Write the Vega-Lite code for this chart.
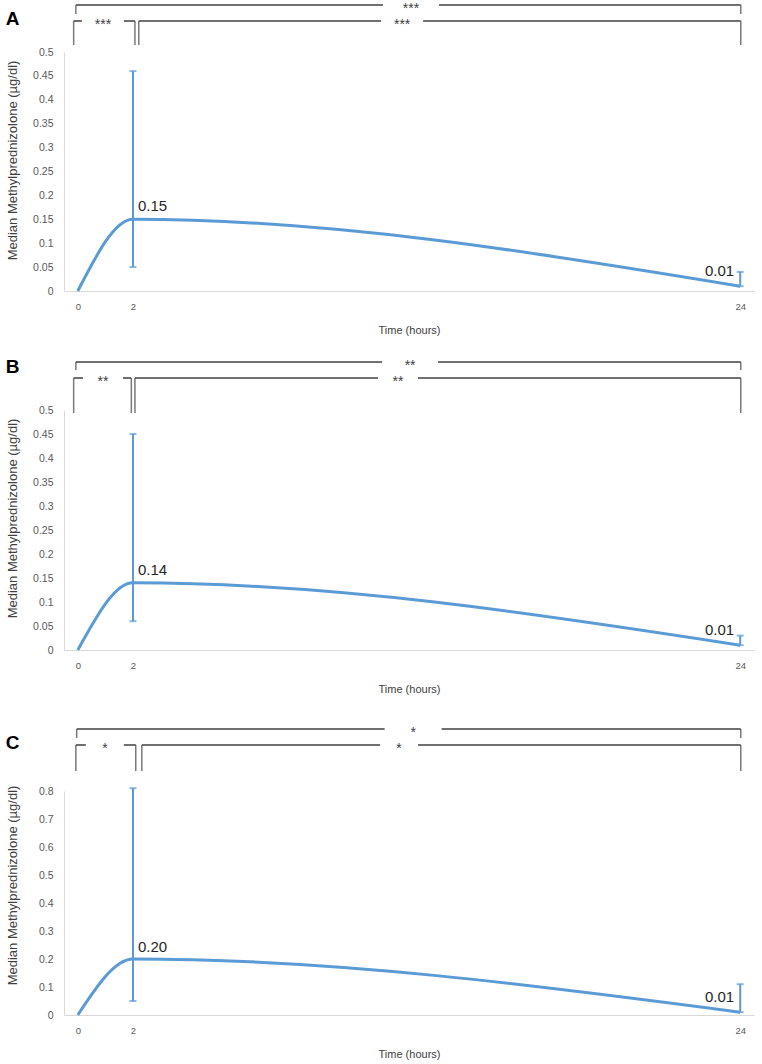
{
  "$schema": "https://vega.github.io/schema/vega-lite/v6.json",
  "padding": {"left": 5, "right": 3, "top": 0, "bottom": 2},
  "config": {
    "view": {"stroke": null},
    "font": "Liberation Sans",
    "axis": {"grid": false, "ticks": false, "tickSize": 0, "labelOverlap": false, "domainColor": "#d9d9d9", "domainWidth": 1, "labelColor": "#595959", "titleColor": "#404040", "titleFontWeight": "normal"}
  },
  "datasets": {
    "curve": [
      {"panel": "A", "t": 0, "median": 0},
      {"panel": "A", "t": 2, "median": 0.15},
      {"panel": "A", "t": 24, "median": 0.01},
      {"panel": "B", "t": 0, "median": 0},
      {"panel": "B", "t": 2, "median": 0.14},
      {"panel": "B", "t": 24, "median": 0.01},
      {"panel": "C", "t": 0, "median": 0},
      {"panel": "C", "t": 2, "median": 0.20},
      {"panel": "C", "t": 24, "median": 0.01}
    ],
    "spread": [
      {"panel": "A", "t": 2, "lo": 0.05, "hi": 0.46},
      {"panel": "A", "t": 24, "lo": 0.01, "hi": 0.04},
      {"panel": "B", "t": 2, "lo": 0.06, "hi": 0.45},
      {"panel": "B", "t": 24, "lo": 0.01, "hi": 0.03},
      {"panel": "C", "t": 2, "lo": 0.05, "hi": 0.81},
      {"panel": "C", "t": 24, "lo": 0.01, "hi": 0.11}
    ],
    "brackets": [
      {"panel": "A", "comparison": "0 h vs 2 h", "from": -0.15, "to": 2.07, "level": 1, "label": "***", "labelAt": 0.91},
      {"panel": "A", "comparison": "2 h vs 24 h", "from": 2.21, "to": 24.02, "level": 1, "label": "***", "labelAt": 11.75},
      {"panel": "A", "comparison": "0 h vs 24 h", "from": -0.07, "to": 24.02, "level": 2, "label": "***", "labelAt": 12.07},
      {"panel": "B", "comparison": "0 h vs 2 h", "from": -0.15, "to": 1.94, "level": 1, "label": "**", "labelAt": 0.91},
      {"panel": "B", "comparison": "2 h vs 24 h", "from": 2.07, "to": 24.02, "level": 1, "label": "**", "labelAt": 11.6},
      {"panel": "B", "comparison": "0 h vs 24 h", "from": -0.07, "to": 24.02, "level": 2, "label": "**", "labelAt": 12.04},
      {"panel": "C", "comparison": "0 h vs 2 h", "from": -0.07, "to": 2.1, "level": 1, "label": "*", "labelAt": 0.98},
      {"panel": "C", "comparison": "2 h vs 24 h", "from": 2.32, "to": 24.02, "level": 1, "label": "*", "labelAt": 11.64},
      {"panel": "C", "comparison": "0 h vs 24 h", "from": -0.04, "to": 24.02, "level": 2, "label": "*", "labelAt": 12.15}
    ]
  },
  "resolve": {"scale": {"x": "independent", "y": "independent"}},
  "spacing": 0,
  "bounds": "flush",
  "vconcat": [
    {
      "width": 690, "height": 52,
      "data": {"name": "brackets"},
      "transform": [{"filter": "datum.panel === 'A'"}],
      "layer": [
        {
          "mark": {"type": "rule", "color": "#404040", "strokeWidth": 1.5},
          "encoding": {
            "x": {"field": "from", "type": "quantitative", "scale": {"domain": [-0.5, 24.5], "nice": false, "zero": false}, "axis": null},
            "x2": {"field": "to"},
            "y": {"field": "level", "type": "quantitative", "scale": {"domain": [-0.9375, 2.3125], "nice": false, "zero": false},
                  "axis": {"title": "A", "labels": false, "domain": false, "titleAngle": 0, "titleX": -52, "titleY": 18, "titleAlign": "center", "titleBaseline": "middle", "titleFontSize": 19, "titleFontWeight": "bold", "titleColor": "#000000"}}
          }
        },
        {
          "transform": [{"filter": "datum.level === 2"}, {"fold": ["from", "to"], "as": ["end", "at"]}],
          "mark": {"type": "tick", "orient": "vertical", "size": 9, "thickness": 1.5, "yOffset": 4.5, "color": "#404040"},
          "encoding": {"x": {"field": "at", "type": "quantitative"}, "y": {"field": "level", "type": "quantitative"}}
        },
        {
          "transform": [{"filter": "datum.level === 1"}, {"fold": ["from", "to"], "as": ["end", "at"]}],
          "mark": {"type": "tick", "orient": "vertical", "size": 24, "thickness": 1.5, "yOffset": 12, "color": "#404040"},
          "encoding": {"x": {"field": "at", "type": "quantitative"}, "y": {"field": "level", "type": "quantitative"}}
        },
        {
          "transform": [{"filter": "datum.level === 2"}],
          "mark": {"type": "point", "shape": "M-1,-0.15H1V0.15H-1Z", "size": 3136, "filled": true, "fill": "#ffffff", "strokeWidth": 0, "opacity": 1},
          "encoding": {"x": {"field": "labelAt", "type": "quantitative"}, "y": {"field": "level", "type": "quantitative"}}
        },
        {
          "transform": [{"filter": "datum.level === 1"}],
          "mark": {"type": "point", "shape": "M-1,-0.15H1V0.15H-1Z", "size": 1764, "filled": true, "fill": "#ffffff", "strokeWidth": 0, "opacity": 1},
          "encoding": {"x": {"field": "labelAt", "type": "quantitative"}, "y": {"field": "level", "type": "quantitative"}}
        },
        {
          "mark": {"type": "text", "fontSize": 14, "baseline": "alphabetic", "dy": 8, "color": "#404040"},
          "encoding": {"x": {"field": "labelAt", "type": "quantitative"}, "y": {"field": "level", "type": "quantitative"}, "text": {"field": "label"}}
        }
      ]
    },
    {
      "width": 690, "height": 239,
      "layer": [
        {
          "data": {"name": "curve"},
          "transform": [{"filter": "datum.panel === 'A'"}],
          "mark": {"type": "line", "interpolate": "monotone", "color": "#5b9bd5", "strokeWidth": 3},
          "encoding": {
            "x": {"field": "t", "type": "quantitative", "scale": {"domain": [-0.5, 24.5], "nice": false, "zero": false},
                  "axis": {"values": [0, 2, 24], "tickCount": 30, "title": "Time (hours)", "labelFontSize": 9.5, "labelPadding": 10, "titleFontSize": 11, "titlePadding": 14}},
            "y": {"field": "median", "type": "quantitative", "scale": {"domain": [0, 0.5], "nice": false},
                  "axis": {"values": [0, 0.05, 0.1, 0.15, 0.2, 0.25, 0.3, 0.35, 0.4, 0.45, 0.5], "tickCount": 30, "format": ".2~f", "labelOverlap": false, "labelFontSize": 10.5, "labelPadding": 11,
                           "title": "Median Methylprednizolone (µg/dl)", "titleFontSize": 13, "titleX": -52, "titleY": 108, "titleAlign": "center", "titleBaseline": "middle"}}
          }
        },
        {
          "data": {"name": "spread"},
          "transform": [{"filter": "datum.panel === 'A'"}],
          "mark": {"type": "rule", "color": "#5b9bd5", "strokeWidth": 2},
          "encoding": {"x": {"field": "t", "type": "quantitative"}, "y": {"field": "lo", "type": "quantitative"}, "y2": {"field": "hi"}}
        },
        {
          "data": {"name": "spread"},
          "transform": [{"filter": "datum.panel === 'A'"}],
          "mark": {"type": "tick", "orient": "horizontal", "size": 7, "thickness": 2, "color": "#5b9bd5"},
          "encoding": {"x": {"field": "t", "type": "quantitative"}, "y": {"field": "hi", "type": "quantitative"}}
        },
        {
          "data": {"name": "spread"},
          "transform": [{"filter": "datum.panel === 'A'"}],
          "mark": {"type": "tick", "orient": "horizontal", "size": 7, "thickness": 2, "color": "#5b9bd5"},
          "encoding": {"x": {"field": "t", "type": "quantitative"}, "y": {"field": "lo", "type": "quantitative"}}
        },
        {
          "data": {"name": "curve"},
          "transform": [{"filter": "datum.panel === 'A' && datum.t === 2"}],
          "mark": {"type": "text", "align": "left", "baseline": "alphabetic", "dx": 5, "dy": -8, "fontSize": 15, "color": "#262626"},
          "encoding": {"x": {"field": "t", "type": "quantitative"}, "y": {"field": "median", "type": "quantitative"}, "text": {"field": "median", "type": "quantitative", "format": ".2f"}}
        },
        {
          "data": {"name": "curve"},
          "transform": [{"filter": "datum.panel === 'A' && datum.t === 24"}],
          "mark": {"type": "text", "align": "right", "baseline": "alphabetic", "dx": -6, "dy": -10, "fontSize": 15, "color": "#262626"},
          "encoding": {"x": {"field": "t", "type": "quantitative"}, "y": {"field": "median", "type": "quantitative"}, "text": {"field": "median", "type": "quantitative", "format": ".2f"}}
        }
      ]
    },
    {
      "width": 690, "height": 119,
      "data": {"name": "brackets"},
      "transform": [{"filter": "datum.panel === 'B'"}],
      "layer": [
        {
          "mark": {"type": "rule", "color": "#404040", "strokeWidth": 1.5},
          "encoding": {
            "x": {"field": "from", "type": "quantitative", "scale": {"domain": [-0.5, 24.5], "nice": false, "zero": false}, "axis": null},
            "x2": {"field": "to"},
            "y": {"field": "level", "type": "quantitative", "scale": {"domain": [-1.0, 6.4375], "nice": false, "zero": false},
                  "axis": {"title": "B", "labels": false, "domain": false, "titleAngle": 0, "titleX": -52, "titleY": 75, "titleAlign": "center", "titleBaseline": "middle", "titleFontSize": 19, "titleFontWeight": "bold", "titleColor": "#000000"}}
          }
        },
        {
          "transform": [{"filter": "datum.level === 2"}, {"fold": ["from", "to"], "as": ["end", "at"]}],
          "mark": {"type": "tick", "orient": "vertical", "size": 8, "thickness": 1.5, "yOffset": 4, "color": "#404040"},
          "encoding": {"x": {"field": "at", "type": "quantitative"}, "y": {"field": "level", "type": "quantitative"}}
        },
        {
          "transform": [{"filter": "datum.level === 1"}, {"fold": ["from", "to"], "as": ["end", "at"]}],
          "mark": {"type": "tick", "orient": "vertical", "size": 35, "thickness": 1.5, "yOffset": 17.5, "color": "#404040"},
          "encoding": {"x": {"field": "at", "type": "quantitative"}, "y": {"field": "level", "type": "quantitative"}}
        },
        {
          "transform": [{"filter": "datum.level === 2"}],
          "mark": {"type": "point", "shape": "M-1,-0.15H1V0.15H-1Z", "size": 3136, "filled": true, "fill": "#ffffff", "strokeWidth": 0, "opacity": 1},
          "encoding": {"x": {"field": "labelAt", "type": "quantitative"}, "y": {"field": "level", "type": "quantitative"}}
        },
        {
          "transform": [{"filter": "datum.level === 1"}],
          "mark": {"type": "point", "shape": "M-1,-0.15H1V0.15H-1Z", "size": 1600, "filled": true, "fill": "#ffffff", "strokeWidth": 0, "opacity": 1},
          "encoding": {"x": {"field": "labelAt", "type": "quantitative"}, "y": {"field": "level", "type": "quantitative"}}
        },
        {
          "mark": {"type": "text", "fontSize": 14, "baseline": "alphabetic", "dy": 8, "color": "#404040"},
          "encoding": {"x": {"field": "labelAt", "type": "quantitative"}, "y": {"field": "level", "type": "quantitative"}, "text": {"field": "label"}}
        }
      ]
    },
    {
      "width": 690, "height": 240,
      "layer": [
        {
          "data": {"name": "curve"},
          "transform": [{"filter": "datum.panel === 'B'"}],
          "mark": {"type": "line", "interpolate": "monotone", "color": "#5b9bd5", "strokeWidth": 3},
          "encoding": {
            "x": {"field": "t", "type": "quantitative", "scale": {"domain": [-0.5, 24.5], "nice": false, "zero": false},
                  "axis": {"values": [0, 2, 24], "tickCount": 30, "title": "Time (hours)", "labelFontSize": 9.5, "labelPadding": 10, "titleFontSize": 11, "titlePadding": 14}},
            "y": {"field": "median", "type": "quantitative", "scale": {"domain": [0, 0.5], "nice": false},
                  "axis": {"values": [0, 0.05, 0.1, 0.15, 0.2, 0.25, 0.3, 0.35, 0.4, 0.45, 0.5], "tickCount": 30, "format": ".2~f", "labelOverlap": false, "labelFontSize": 10.5, "labelPadding": 11,
                           "title": "Median Methylprednizolone (µg/dl)", "titleFontSize": 13, "titleX": -52, "titleY": 108, "titleAlign": "center", "titleBaseline": "middle"}}
          }
        },
        {
          "data": {"name": "spread"},
          "transform": [{"filter": "datum.panel === 'B'"}],
          "mark": {"type": "rule", "color": "#5b9bd5", "strokeWidth": 2},
          "encoding": {"x": {"field": "t", "type": "quantitative"}, "y": {"field": "lo", "type": "quantitative"}, "y2": {"field": "hi"}}
        },
        {
          "data": {"name": "spread"},
          "transform": [{"filter": "datum.panel === 'B'"}],
          "mark": {"type": "tick", "orient": "horizontal", "size": 7, "thickness": 2, "color": "#5b9bd5"},
          "encoding": {"x": {"field": "t", "type": "quantitative"}, "y": {"field": "hi", "type": "quantitative"}}
        },
        {
          "data": {"name": "spread"},
          "transform": [{"filter": "datum.panel === 'B'"}],
          "mark": {"type": "tick", "orient": "horizontal", "size": 7, "thickness": 2, "color": "#5b9bd5"},
          "encoding": {"x": {"field": "t", "type": "quantitative"}, "y": {"field": "lo", "type": "quantitative"}}
        },
        {
          "data": {"name": "curve"},
          "transform": [{"filter": "datum.panel === 'B' && datum.t === 2"}],
          "mark": {"type": "text", "align": "left", "baseline": "alphabetic", "dx": 5, "dy": -8, "fontSize": 15, "color": "#262626"},
          "encoding": {"x": {"field": "t", "type": "quantitative"}, "y": {"field": "median", "type": "quantitative"}, "text": {"field": "median", "type": "quantitative", "format": ".2f"}}
        },
        {
          "data": {"name": "curve"},
          "transform": [{"filter": "datum.panel === 'B' && datum.t === 24"}],
          "mark": {"type": "text", "align": "right", "baseline": "alphabetic", "dx": -6, "dy": -10, "fontSize": 15, "color": "#262626"},
          "encoding": {"x": {"field": "t", "type": "quantitative"}, "y": {"field": "median", "type": "quantitative"}, "text": {"field": "median", "type": "quantitative", "format": ".2f"}}
        }
      ]
    },
    {
      "width": 690, "height": 141,
      "data": {"name": "brackets"},
      "transform": [{"filter": "datum.panel === 'C'"}],
      "layer": [
        {
          "mark": {"type": "rule", "color": "#404040", "strokeWidth": 1.5},
          "encoding": {
            "x": {"field": "from", "type": "quantitative", "scale": {"domain": [-0.5, 24.5], "nice": false, "zero": false}, "axis": null},
            "x2": {"field": "to"},
            "y": {"field": "level", "type": "quantitative", "scale": {"domain": [-1.875, 6.9375], "nice": false, "zero": false},
                  "axis": {"title": "C", "labels": false, "domain": false, "titleAngle": 0, "titleX": -52, "titleY": 92, "titleAlign": "center", "titleBaseline": "middle", "titleFontSize": 19, "titleFontWeight": "bold", "titleColor": "#000000"}}
          }
        },
        {
          "transform": [{"filter": "datum.level === 2"}, {"fold": ["from", "to"], "as": ["end", "at"]}],
          "mark": {"type": "tick", "orient": "vertical", "size": 9, "thickness": 1.5, "yOffset": 4.5, "color": "#404040"},
          "encoding": {"x": {"field": "at", "type": "quantitative"}, "y": {"field": "level", "type": "quantitative"}}
        },
        {
          "transform": [{"filter": "datum.level === 1"}, {"fold": ["from", "to"], "as": ["end", "at"]}],
          "mark": {"type": "tick", "orient": "vertical", "size": 26, "thickness": 1.5, "yOffset": 13, "color": "#404040"},
          "encoding": {"x": {"field": "at", "type": "quantitative"}, "y": {"field": "level", "type": "quantitative"}}
        },
        {
          "transform": [{"filter": "datum.level === 2"}],
          "mark": {"type": "point", "shape": "M-1,-0.15H1V0.15H-1Z", "size": 3249, "filled": true, "fill": "#ffffff", "strokeWidth": 0, "opacity": 1},
          "encoding": {"x": {"field": "labelAt", "type": "quantitative"}, "y": {"field": "level", "type": "quantitative"}}
        },
        {
          "transform": [{"filter": "datum.level === 1"}],
          "mark": {"type": "point", "shape": "M-1,-0.15H1V0.15H-1Z", "size": 1444, "filled": true, "fill": "#ffffff", "strokeWidth": 0, "opacity": 1},
          "encoding": {"x": {"field": "labelAt", "type": "quantitative"}, "y": {"field": "level", "type": "quantitative"}}
        },
        {
          "mark": {"type": "text", "fontSize": 14, "baseline": "alphabetic", "dy": 8, "color": "#404040"},
          "encoding": {"x": {"field": "labelAt", "type": "quantitative"}, "y": {"field": "level", "type": "quantitative"}, "text": {"field": "label"}}
        }
      ]
    },
    {
      "width": 690, "height": 224,
      "layer": [
        {
          "data": {"name": "curve"},
          "transform": [{"filter": "datum.panel === 'C'"}],
          "mark": {"type": "line", "interpolate": "monotone", "color": "#5b9bd5", "strokeWidth": 3},
          "encoding": {
            "x": {"field": "t", "type": "quantitative", "scale": {"domain": [-0.5, 24.5], "nice": false, "zero": false},
                  "axis": {"values": [0, 2, 24], "tickCount": 30, "title": "Time (hours)", "labelFontSize": 9.5, "labelPadding": 10, "titleFontSize": 11, "titlePadding": 14}},
            "y": {"field": "median", "type": "quantitative", "scale": {"domain": [0, 0.8], "nice": false},
                  "axis": {"values": [0, 0.1, 0.2, 0.3, 0.4, 0.5, 0.6, 0.7, 0.8], "tickCount": 30, "format": ".1~f", "labelOverlap": false, "labelFontSize": 10.5, "labelPadding": 11,
                           "title": "Median Methylprednizolone (µg/dl)", "titleFontSize": 13, "titleX": -52, "titleY": 94, "titleAlign": "center", "titleBaseline": "middle"}}
          }
        },
        {
          "data": {"name": "spread"},
          "transform": [{"filter": "datum.panel === 'C'"}],
          "mark": {"type": "rule", "color": "#5b9bd5", "strokeWidth": 2},
          "encoding": {"x": {"field": "t", "type": "quantitative"}, "y": {"field": "lo", "type": "quantitative"}, "y2": {"field": "hi"}}
        },
        {
          "data": {"name": "spread"},
          "transform": [{"filter": "datum.panel === 'C'"}],
          "mark": {"type": "tick", "orient": "horizontal", "size": 7, "thickness": 2, "color": "#5b9bd5"},
          "encoding": {"x": {"field": "t", "type": "quantitative"}, "y": {"field": "hi", "type": "quantitative"}}
        },
        {
          "data": {"name": "spread"},
          "transform": [{"filter": "datum.panel === 'C'"}],
          "mark": {"type": "tick", "orient": "horizontal", "size": 7, "thickness": 2, "color": "#5b9bd5"},
          "encoding": {"x": {"field": "t", "type": "quantitative"}, "y": {"field": "lo", "type": "quantitative"}}
        },
        {
          "data": {"name": "curve"},
          "transform": [{"filter": "datum.panel === 'C' && datum.t === 2"}],
          "mark": {"type": "text", "align": "left", "baseline": "alphabetic", "dx": 5, "dy": -7, "fontSize": 15, "color": "#262626"},
          "encoding": {"x": {"field": "t", "type": "quantitative"}, "y": {"field": "median", "type": "quantitative"}, "text": {"field": "median", "type": "quantitative", "format": ".2f"}}
        },
        {
          "data": {"name": "curve"},
          "transform": [{"filter": "datum.panel === 'C' && datum.t === 24"}],
          "mark": {"type": "text", "align": "right", "baseline": "alphabetic", "dx": -6, "dy": -10, "fontSize": 15, "color": "#262626"},
          "encoding": {"x": {"field": "t", "type": "quantitative"}, "y": {"field": "median", "type": "quantitative"}, "text": {"field": "median", "type": "quantitative", "format": ".2f"}}
        }
      ]
    }
  ]
}
